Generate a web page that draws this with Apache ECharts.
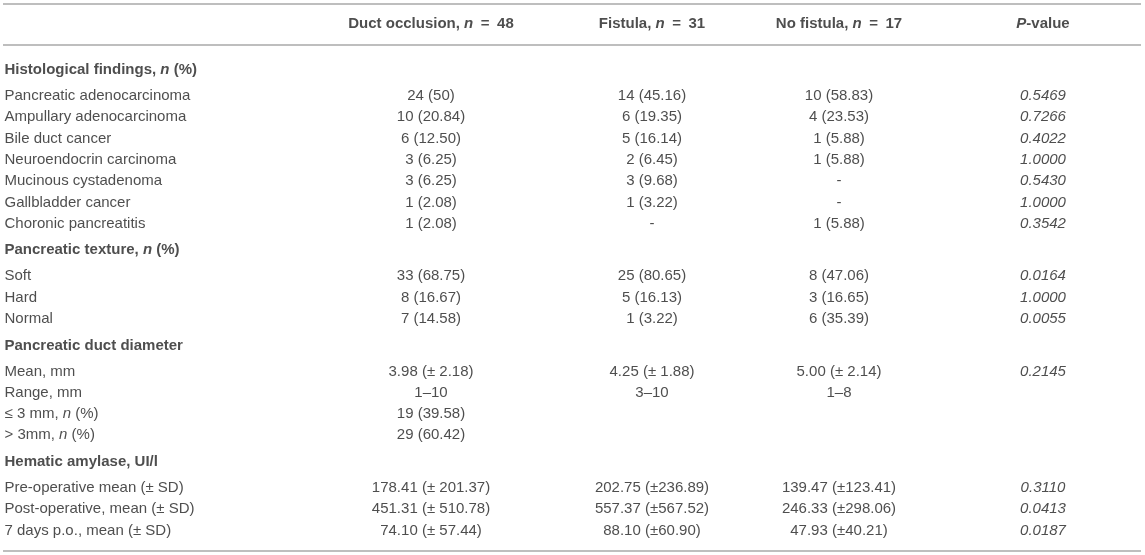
<!DOCTYPE html>
<html>
<head>
<meta charset="utf-8">
<title>Pancreatic duct occlusion table</title>
<script src="https://cdn.jsdelivr.net/npm/echarts@6/dist/echarts.min.js"></script>
<style>
  html, body { margin: 0; padding: 0; background: #fff; }
  #main { width: 1145px; height: 555px; }
</style>
</head>
<body>
<div id="main"></div>
<script>
// column headers
var groupNames = ['Duct occlusion', 'Fistula', 'No fistula'];
var groupSizes = [48, 31, 17];

// Histological findings, n (%)
var histLabels = ['Pancreatic adenocarcinoma', 'Ampullary adenocarcinoma', 'Bile duct cancer', 'Neuroendocrin carcinoma', 'Mucinous cystadenoma', 'Gallbladder cancer', 'Choronic pancreatitis'];
var histDuct = ['24 (50)', '10 (20.84)', '6 (12.50)', '3 (6.25)', '3 (6.25)', '1 (2.08)', '1 (2.08)'];
var histFistula = ['14 (45.16)', '6 (19.35)', '5 (16.14)', '2 (6.45)', '3 (9.68)', '1 (3.22)', '-'];
var histNoFistula = ['10 (58.83)', '4 (23.53)', '1 (5.88)', '1 (5.88)', '-', '-', '1 (5.88)'];
var histP = ['0.5469', '0.7266', '0.4022', '1.0000', '0.5430', '1.0000', '0.3542'];

// Pancreatic texture, n (%)
var textureLabels = ['Soft', 'Hard', 'Normal'];
var textureDuct = ['33 (68.75)', '8 (16.67)', '7 (14.58)'];
var textureFistula = ['25 (80.65)', '5 (16.13)', '1 (3.22)'];
var textureNoFistula = ['8 (47.06)', '3 (16.65)', '6 (35.39)'];
var textureP = ['0.0164', '1.0000', '0.0055'];

// Pancreatic duct diameter
var diamLabels = ['Mean, mm', 'Range, mm', '≤ 3 mm, {i|n} (%)', '> 3mm, {i|n} (%)'];
var diamDuct = ['3.98 (± 2.18)', '1–10', '19 (39.58)', '29 (60.42)'];
var diamFistula = ['4.25 (± 1.88)', '3–10', '', ''];
var diamNoFistula = ['5.00 (± 2.14)', '1–8', '', ''];
var diamP = ['0.2145', '', '', ''];

// Hematic amylase, UI/l
var amylLabels = ['Pre-operative mean (± SD)', 'Post-operative, mean (± SD)', '7 days p.o., mean (± SD)'];
var amylDuct = ['178.41 (± 201.37)', '451.31 (± 510.78)', '74.10 (± 57.44)'];
var amylFistula = ['202.75 (±236.89)', '557.37 (±567.52)', '88.10 (±60.90)'];
var amylNoFistula = ['139.47 (±123.41)', '246.33 (±298.06)', '47.93 (±40.21)'];
var amylP = ['0.3110', '0.0413', '0.0187'];

var sections = [
    { title: 'Histological findings, {bi|n} (%)', labels: histLabels, cols: [histDuct, histFistula, histNoFistula, histP] },
    { title: 'Pancreatic texture, {bi|n} (%)', labels: textureLabels, cols: [textureDuct, textureFistula, textureNoFistula, textureP] },
    { title: 'Pancreatic duct diameter', labels: diamLabels, cols: [diamDuct, diamFistula, diamNoFistula, diamP] },
    { title: 'Hematic amylase, UI/l', labels: amylLabels, cols: [amylDuct, amylFistula, amylNoFistula, amylP] }
];

// table layout (pixels)
var labelX = 4;
var colX = [431, 652, 839, 1043];
var headY = 24, firstY = 70, rowStep = 21.3, headToRow = 26, rowToHead = 26.5;
var ruleY = [4, 44.7, 551];

var FONT = 'Liberation Sans, Arial, Helvetica, sans-serif';
var INK = '#222';

var headData = [], sectionData = [], labelData = [], cellData = [[], [], [], []];
groupNames.forEach(function (g, c) {
    headData.push({ value: [colX[c], headY], text: g + ', {bi|n}\u2002=\u2002' + groupSizes[c] });
});
headData.push({ value: [colX[3], headY], text: '{bi|P}-value' });

var y = firstY;
sections.forEach(function (s, si) {
    if (si > 0) y += rowToHead;
    sectionData.push({ value: [labelX, y], text: s.title });
    y += headToRow;
    s.labels.forEach(function (lab, i) {
        if (i > 0) y += rowStep;
        labelData.push({ value: [labelX, y], text: lab });
        s.cols.forEach(function (col, c) {
            if (col[i]) cellData[c].push({ value: [colX[c], y], text: col[i] });
        });
    });
});

var rich = {
    i: { fontFamily: FONT, fontSize: 15, color: INK, fontStyle: 'italic', fontWeight: 'normal' },
    bi: { fontFamily: FONT, fontSize: 15, color: INK, fontStyle: 'italic', fontWeight: 'bold' }
};

function textSeries(data, left, bold, italic) {
    return {
        type: 'scatter',
        data: data,
        symbolSize: 1,
        silent: true,
        itemStyle: { color: 'transparent' },
        label: {
            show: true,
            position: left ? 'right' : 'inside',
            distance: 0,
            align: left ? 'left' : 'center',
            verticalAlign: 'middle',
            formatter: function (p) { return p.data.text; },
            fontFamily: FONT,
            fontSize: 15,
            color: INK,
            fontWeight: bold ? 'bold' : 'normal',
            fontStyle: italic ? 'italic' : 'normal',
            rich: rich
        }
    };
}

var chart = echarts.init(document.getElementById('main'));

var series = [
    textSeries(headData, false, true, false),
    textSeries(sectionData, true, true, false),
    textSeries(labelData, true, false, false),
    textSeries(cellData[0], false, false, false),
    textSeries(cellData[1], false, false, false),
    textSeries(cellData[2], false, false, false),
    textSeries(cellData[3], false, false, true)
];
// horizontal rules
series[0].markLine = {
    silent: true,
    symbol: ['none', 'none'],
    label: { show: false },
    lineStyle: { color: '#a9a9a9', width: 1.5, type: 'solid' },
    data: ruleY.map(function (v) { return { yAxis: v }; })
};

chart.setOption({
    animation: false,
    grid: { left: 3, right: 4, top: 0, bottom: 0 },
    xAxis: { type: 'value', min: 3, max: 1141, show: false },
    yAxis: { type: 'value', min: 0, max: 555, inverse: true, show: false },
    series: series
});
</script>
</body>
</html>
